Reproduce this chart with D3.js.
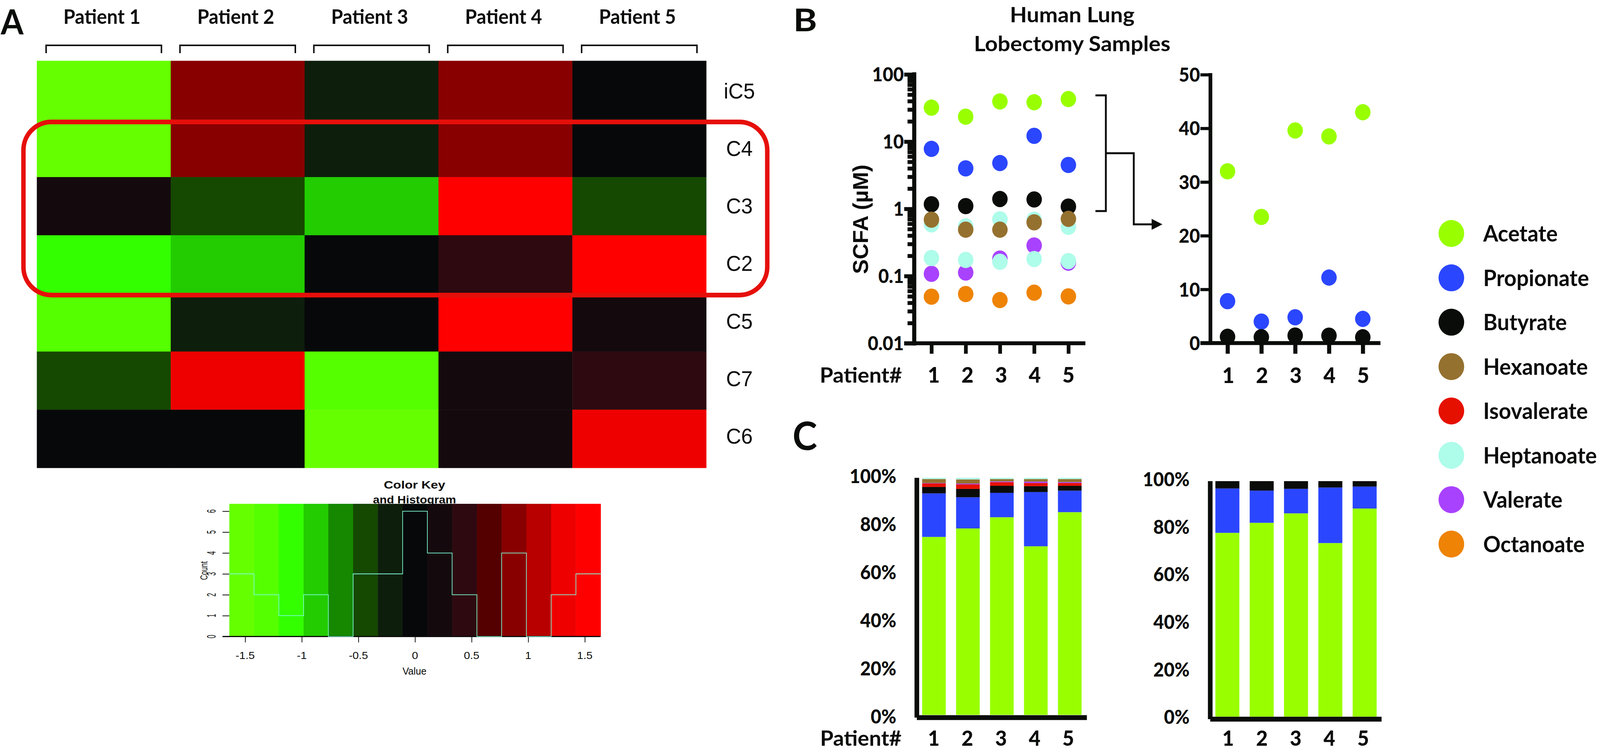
<!DOCTYPE html>
<html>
<head>
<meta charset="utf-8">
<script src="https://cdn.jsdelivr.net/npm/d3@7"></script>
<style>
    html, body { margin: 0; padding: 0; width: 100%; height: 100%; overflow: hidden; background: #fff; }
    #chart { width: 100%; height: 100%; }
    text { fill: #0a0c0a; }
    .lato { font-family: Lato, sans-serif; font-weight: 700; }
    .arial { font-family: "Liberation Sans", Arial, sans-serif; }
</style>
</head>
<body>
<div id="chart"></div>
<script>
var patients = ['1', '2', '3', '4', '5'];
var patientNames = ['Patient 1', 'Patient 2', 'Patient 3', 'Patient 4', 'Patient 5'];

// heatmap values, one list per row
var heatRows = ['iC5', 'C4', 'C3', 'C2', 'C5', 'C7', 'C6'];
var rowIC5 = [-1.5, 0.9, -0.2, 0.9, 0];
var rowC4 = [-1.5, 0.9, -0.2, 0.9, 0];
var rowC3 = [0.2, -0.5, -0.9, 1.5, -0.5];
var rowC2 = [-1.1, -0.9, 0, 0.4, 1.5];
var rowC5 = [-1.3, -0.2, 0, 1.5, 0.2];
var rowC7 = [-0.5, 1.3, -1.3, 0.2, 0.4];
var rowC6 = [0, 0, -1.5, 0.2, 1.3];
var heatValues = [rowIC5, rowC4, rowC3, rowC2, rowC5, rowC7, rowC6];

var keyColors = ['#66ff00', '#55ff00', '#33ff00', '#22cc00', '#158800', '#154800', '#0e1e0c', '#06080a',
    '#140a0e', '#2e0a10', '#550000', '#880000', '#b80000', '#ee0000', '#ff0000'];
var keyTicks = [-1.5, -1, -0.5, 0, 0.5, 1, 1.5];
var countTicks = [0, 1, 2, 3, 4, 5, 6];

// SCFA concentration per patient (uM)
var acetate = [32, 23.5, 39.6, 38.5, 43];
var propionate = [7.8, 4, 4.8, 12.2, 4.5];
var butyrate = [1.17, 1.1, 1.4, 1.38, 1.08];
var hexanoate = [0.69, 0.49, 0.49, 0.63, 0.71];
var isovalerate = [0.587, 0.55, 0.7, 0.69, 0.54];
var valerate = [0.108, 0.113, 0.182, 0.285, 0.158];
var heptanoate = [0.186, 0.174, 0.163, 0.179, 0.167];
var octanoate = [0.0494, 0.054, 0.044, 0.0566, 0.0499];

var logTicks = [0.01, 0.1, 1, 10, 100];
var linTicks = [0, 10, 20, 30, 40, 50];
var pctTicks = [0, 20, 40, 60, 80, 100];

// percent of total, left stacked chart
var pctAcetate = [75.07, 78.65, 83.37, 71.12, 85.51];
var pctPropionate = [18.37, 13.15, 10.29, 22.88, 9.08];
var pctButyrate = [2.7, 3.52, 2.97, 2.48, 2.04];
var pctIsovalerate = [1.49, 1.93, 1.54, 1.32, 1.16];
var pctValerate = [0.17, 0.33, 0.33, 0.6, 0.39];
var pctHexanoate = [1.7, 1.76, 1, 1.1, 1.32];
var pctHeptanoate = [0.5, 0.66, 0.5, 0.5, 0.5];

// percent of total, right stacked chart
var topAcetate = [78.05, 82.31, 86.32, 73.71, 88.37];
var topPropionate = [18.84, 13.68, 10.4, 23.59, 9.34];
var topButyrate = [3.11, 4.01, 3.28, 2.7, 2.29];

var legendNames = ['Acetate', 'Propionate', 'Butyrate', 'Hexanoate', 'Isovalerate', 'Heptanoate', 'Valerate', 'Octanoate'];
var legendColors = ['#99ff00', '#2b46ff', '#0a0c0a', '#95712f', '#e61000', '#aefcea', '#a942ff', '#ee8305'];
var color = d3.scaleOrdinal().domain(legendNames).range(legendColors);

// the window can come out narrower than asked, so the figure fills whatever it gets
var svg = d3.select('#chart').append('svg')
    .attr('viewBox', '0 0 4300 1924')
    .attr('preserveAspectRatio', 'none')
    .style('width', '100%')
    .style('height', '100%')
    .style('display', 'block');

// small helper for text that has to fill a measured width
function label(str, x, y, size, cls, anchor, width) {
    var t = svg.append('text')
        .attr('class', cls)
        .attr('x', x)
        .attr('y', y)
        .attr('font-size', size)
        .attr('text-anchor', anchor || 'start')
        .text(str);
    if (width) {
        t.attr('textLength', width).attr('lengthAdjust', 'spacingAndGlyphs');
    }
    return t;
}

function rule(x1, y1, x2, y2, w) {
    svg.append('line')
        .attr('x1', x1).attr('y1', y1)
        .attr('x2', x2).attr('y2', y2)
        .attr('stroke', '#0a0c0a')
        .attr('stroke-width', w);
}

// style the output of a d3 axis
function styleAxis(g, w, size) {
    g.select('.domain').remove();
    g.selectAll('.tick line').attr('stroke', '#0a0c0a').attr('stroke-width', w);
    g.selectAll('.tick text')
        .attr('class', 'lato')
        .attr('font-size', size)
        .attr('font-weight', 900)
        .style('font-weight', 900)
        .attr('fill', '#0a0c0a');
    g.attr('font-family', null).attr('font-size', null);
}

// tick labels along the bottom, baseline sitting on y
function bottomLabels(x0, x1, y, size) {
    var s = d3.scalePoint().domain(patients).range([x0, x1]);
    var g = svg.append('g')
        .attr('transform', 'translate(0,' + y + ')')
        .call(d3.axisBottom(s).tickSize(0));
    styleAxis(g, 0, size);
    g.selectAll('.tick text').attr('y', 0).attr('dy', 0);
}

// ---- panel A, heatmap ----
var heatX = d3.scaleBand().domain(patientNames).range([99, 1898]);
var heatY = d3.scaleBand().domain(heatRows).range([155.5, 1197]);
var keyX = d3.scaleLinear().domain([-1.64, 1.64]).range([616.3, 1614.3]);
var keyY = d3.scaleLinear().domain([0, 6]).range([1628.6, 1307.9]);
var keyColor = d3.scaleQuantize().domain(keyX.domain()).range(keyColors);

heatRows.forEach(function (row, i) {
    svg.append('g').selectAll('rect')
        .data(heatValues[i])
        .enter()
        .append('rect')
        .attr('x', function (d, j) { return heatX(patientNames[j]); })
        .attr('y', heatY(row))
        .attr('width', heatX.bandwidth() + 0.5)
        .attr('height', heatY.bandwidth() + 0.5)
        .attr('fill', function (d) { return keyColor(d); });
});

label('A', 2, 88, 88, 'lato');

patientNames.forEach(function (name) {
    var c = heatX(name) + heatX.bandwidth() / 2;
    label(name, c - 5, 61, 52, 'lato', 'middle', 207);
    // bracket over each column
    svg.append('path')
        .attr('d', d3.line()([[c - 155, 136], [c - 155, 116], [c + 155, 116], [c + 155, 136]]))
        .attr('fill', 'none')
        .attr('stroke', '#0a0c0a')
        .attr('stroke-width', 4);
});

var rowLabelY = d3.scalePoint().domain(heatRows).range([252, 1135]);
heatRows.forEach(function (row) {
    label(row, 1987, rowLabelY(row), 56, 'arial', 'middle');
});

// highlight around C4, C3, C2
svg.append('rect')
    .attr('x', 63)
    .attr('y', 312)
    .attr('width', 1999)
    .attr('height', 443)
    .attr('rx', 75)
    .attr('ry', 72)
    .attr('fill', 'none')
    .attr('stroke', '#e60f0a')
    .attr('stroke-width', 12);

// ---- colour key and histogram ----
var keyBins = d3.bin()
    .domain(keyX.domain())
    .thresholds(keyColor.thresholds())(heatValues.flat());

svg.append('g').selectAll('rect')
    .data(keyBins)
    .enter()
    .append('rect')
    .attr('x', function (d) { return keyX(d.x0); })
    .attr('y', 1289)
    .attr('width', function (d) { return keyX(d.x1) - keyX(d.x0) + 0.5; })
    .attr('height', keyY(0) - 1289)
    .attr('fill', function (d) { return keyColor((d.x0 + d.x1) / 2); });

var keyAxisX = svg.append('g')
    .attr('transform', 'translate(0,' + keyY(0) + ')')
    .call(d3.axisBottom(keyX).tickValues(keyTicks).tickSize(15).tickFormat(function () { return ''; }));
keyAxisX.select('.domain').remove();
keyAxisX.selectAll('.tick line').attr('stroke', '#0a0c0a').attr('stroke-width', 2);

var keyAxisY = svg.append('g')
    .attr('transform', 'translate(616,0)')
    .call(d3.axisLeft(keyY).tickValues(countTicks).tickSize(18).tickFormat(function () { return ''; }));
keyAxisY.select('.domain').remove();
keyAxisY.selectAll('.tick line').attr('stroke', '#0a0c0a').attr('stroke-width', 2);

rule(598, keyY(0), 1614, keyY(0), 3);

var stepPoints = keyBins.map(function (d) { return [d.x0, d.length]; });
stepPoints.push([keyX.domain()[1], keyBins[keyBins.length - 1].length]);
svg.append('path')
    .attr('d', d3.line()
        .x(function (d) { return keyX(d[0]); })
        .y(function (d) { return keyY(d[1]); })
        .curve(d3.curveStepAfter)(stepPoints))
    .attr('fill', 'none')
    .attr('stroke', '#7ffcd8')
    .attr('stroke-width', 1.8);

// R draws these stretched sideways, so they get a scale as well
function stretched(str, x, y, size, weight, sx, rotate) {
    svg.append('text')
        .attr('class', 'arial')
        .attr('font-size', size)
        .attr('font-weight', weight)
        .attr('text-anchor', 'middle')
        .attr('transform', 'translate(' + x + ',' + y + ') scale(' + sx + ',1)' + (rotate ? ' rotate(-90)' : ''))
        .text(str);
}

stretched('Color Key', 1114, 1250, 28, 700, 1.25);
stretched('and Histogram', 1114, 1288, 28, 700, 1.14);
keyTicks.forEach(function (d) {
    stretched(String(d), keyX(d), 1686, 26, 400, 1.15);
});
stretched('Value', 1114, 1726, 25, 400, 1.04);
countTicks.forEach(function (d) {
    stretched(String(d), 580, keyY(d), 16, 400, 2, true);
});
stretched('Count', 557, 1460, 18, 400, 1.47, true);

// ---- panel B, log scale dots ----
label('B', 2132, 80, 80, 'lato', 'start', 64);
label('Human Lung', 2881.5, 57, 54, 'lato', 'middle', 335);
label('Lobectomy Samples', 2881.5, 131, 54, 'lato', 'middle', 528);

var logY = d3.scaleLog().domain([0.01, 100]).range([878.3, 190.3]);
var logX = d3.scalePoint().domain(patients).range([2503.3, 2871.3]);

// minor ticks first, 2 to 9 in every decade
var logMinor = [];
logTicks.slice(0, 4).forEach(function (decade) {
    d3.range(2, 10).forEach(function (m) { logMinor.push(decade * m); });
});
var logMinorAxis = svg.append('g')
    .attr('transform', 'translate(2457,0)')
    .call(d3.axisLeft(logY).tickValues(logMinor).tickSize(18).tickFormat(function () { return ''; }));
styleAxis(logMinorAxis, 10, 49);

var logAxis = svg.append('g')
    .attr('transform', 'translate(2457,0)')
    .call(d3.axisLeft(logY).tickValues(logTicks).tickSize(27).tickPadding(1).tickFormat(function (d) { return String(d); }));
styleAxis(logAxis, 10, 49);
logAxis.selectAll('.tick text').attr('dy', '0.36em');

rule(2457, 185, 2457, 884, 11);
rule(2430, 878.3, 2917, 878.3, 10);

var logAxisX = svg.append('g')
    .attr('transform', 'translate(0,878)')
    .call(d3.axisBottom(logX).tickSize(27).tickFormat(function () { return ''; }));
styleAxis(logAxisX, 10, 49);

// the upper pale dots are isovalerate in the figure, red only in the legend
var logSeries = [
    {values: acetate, fill: color('Acetate')},
    {values: propionate, fill: color('Propionate')},
    {values: butyrate, fill: color('Butyrate')},
    {values: isovalerate, fill: color('Heptanoate')},
    {values: hexanoate, fill: color('Hexanoate')},
    {values: valerate, fill: color('Valerate')},
    {values: heptanoate, fill: color('Heptanoate')},
    {values: octanoate, fill: color('Octanoate')}
];
logSeries.forEach(function (s) {
    svg.append('g').selectAll('circle')
        .data(s.values)
        .enter()
        .append('circle')
        .attr('cx', function (d, i) { return logX(patients[i]); })
        .attr('cy', function (d) { return logY(d); })
        .attr('r', 20.8)
        .attr('fill', s.fill);
});

bottomLabels(2509, 2871, 979, 56);
label('Patient#', 2424, 979, 54, 'lato', 'end', 221);

svg.append('text')
    .attr('class', 'arial')
    .attr('font-size', 58)
    .attr('font-weight', 700)
    .attr('text-anchor', 'middle')
    .attr('textLength', 280)
    .attr('lengthAdjust', 'spacingAndGlyphs')
    .attr('transform', 'translate(2333,561) rotate(-90)')
    .text('SCFA (\u00b5M)');

// bracket and arrow to the zoomed chart
svg.append('path')
    .attr('d', 'M2944,244 H2972 V540 H2944 M2972,392 H3047 V574 H3098')
    .attr('fill', 'none')
    .attr('stroke', '#0a0c0a')
    .attr('stroke-width', 5);
svg.append('path')
    .attr('d', 'M3095,560 L3124,574 L3095,588 Z')
    .attr('fill', '#0a0c0a');

// linear zoom of the top three
var linY = d3.scaleLinear().domain([0, 50]).range([877.7, 191]);
var linX = d3.scalePoint().domain(patients).range([3299, 3662.5]);

var linAxis = svg.append('g')
    .attr('transform', 'translate(3253,0)')
    .call(d3.axisLeft(linY).tickValues(linTicks).tickSize(27).tickPadding(1).tickFormat(function (d) { return String(d); }));
styleAxis(linAxis, 8, 49);
linAxis.selectAll('.tick text').attr('dy', '0.36em');

rule(3253, 187, 3253, 882, 10);
rule(3226, 877.7, 3710, 877.7, 10);

var linAxisX = svg.append('g')
    .attr('transform', 'translate(0,878)')
    .call(d3.axisBottom(linX).tickSize(27).tickFormat(function () { return ''; }));
styleAxis(linAxisX, 11, 49);

[{values: acetate, name: 'Acetate'}, {values: propionate, name: 'Propionate'}, {values: butyrate, name: 'Butyrate'}].forEach(function (s) {
    svg.append('g').selectAll('circle')
        .data(s.values)
        .enter()
        .append('circle')
        .attr('cx', function (d, i) { return linX(patients[i]); })
        .attr('cy', function (d) { return linY(d); })
        .attr('r', 20.8)
        .attr('fill', color(s.name));
});

bottomLabels(3300.5, 3663, 979.5, 56);

// ---- legend ----
var legendY = d3.scalePoint().domain(legendNames).range([597.3, 1392]);
legendNames.forEach(function (name) {
    svg.append('circle')
        .attr('cx', 3900.5)
        .attr('cy', legendY(name))
        .attr('r', 34.5)
        .attr('fill', color(name));
    label(name, 3986, legendY(name) + 21, 58, 'lato');
});

// ---- panel C, stacked bars ----
label('C', 2130, 1151, 100, 'lato', 'start', 66);

function stackedChart(opts) {
    var rows = patients.map(function (p, i) {
        var row = {patient: p};
        opts.keys.forEach(function (k, j) { row[k] = opts.series[j][i]; });
        return row;
    });
    var x = d3.scalePoint().domain(patients).range(opts.xRange);
    var y = d3.scaleLinear().domain([0, 100]).range(opts.yRange);

    svg.append('g').selectAll('g')
        .data(d3.stack().keys(opts.keys)(rows))
        .enter()
        .append('g')
        .attr('fill', function (d) { return color(d.key); })
        .selectAll('rect')
        .data(function (d) { return d; })
        .enter()
        .append('rect')
        .attr('x', function (d) { return x(d.data.patient) - opts.barWidth / 2; })
        .attr('y', function (d) { return y(d[1]); })
        .attr('width', opts.barWidth)
        .attr('height', function (d) { return y(d[0]) - y(d[1]); });

    // tick labels run on their own scale, the figure has no tick marks here
    var labelY = d3.scaleLinear().domain([0, 100]).range(opts.labelRange);
    var g = svg.append('g')
        .attr('transform', 'translate(' + opts.labelX + ',0)')
        .call(d3.axisLeft(labelY).tickValues(pctTicks).tickSize(0).tickPadding(0).tickFormat(function (d) { return d + '%'; }));
    styleAxis(g, 0, 49);
    g.selectAll('.tick text').attr('dy', '0.32em');

    rule(opts.axisX, opts.yRange[1], opts.axisX, opts.axisBottom, 12.5);
    rule(opts.axisX, opts.axisY, opts.axisEnd, opts.axisY, 12.5);
}

stackedChart({
    keys: ['Acetate', 'Propionate', 'Butyrate', 'Isovalerate', 'Valerate', 'Hexanoate', 'Heptanoate'],
    series: [pctAcetate, pctPropionate, pctButyrate, pctIsovalerate, pctValerate, pctHexanoate, pctHeptanoate],
    xRange: [2510, 2875],
    yRange: [1829, 1222.5],
    barWidth: 63.5,
    labelRange: [1834.5, 1219.5],
    labelX: 2409,
    axisX: 2464,
    axisBottom: 1836,
    axisY: 1836,
    axisEnd: 2921
});
bottomLabels(2509, 2870.4, 1908, 54);
label('Patient#', 2423, 1908, 54, 'lato', 'end', 219);

stackedChart({
    keys: ['Acetate', 'Propionate', 'Butyrate'],
    series: [topAcetate, topPropionate, topButyrate],
    xRange: [3298.6, 3667.5],
    yRange: [1833.6, 1231],
    barWidth: 64.5,
    labelRange: [1836, 1228],
    labelX: 3197,
    axisX: 3252.5,
    axisBottom: 1840,
    axisY: 1840,
    axisEnd: 3713
});
bottomLabels(3300, 3663, 1908, 54);
</script>
</body>
</html>
